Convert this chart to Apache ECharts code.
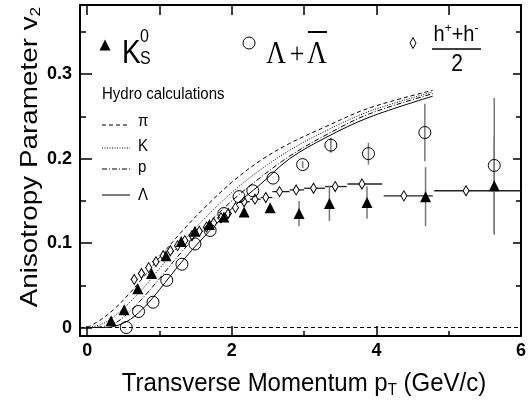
<!DOCTYPE html>
<html><head><meta charset="utf-8">
<script src="https://cdn.jsdelivr.net/npm/echarts@6/dist/echarts.min.js"></script>
<style>html,body{margin:0;padding:0;background:#fff}#c{width:529px;height:400px}</style>
</head><body><div id="c"></div>
<script>
// ---- data ----
const xTickLabels = [0, 2, 4, 6];
const yTickLabels = [0, 0.1, 0.2, 0.3];

// K0S (filled triangles)
const kX   = [0.33,0.51,0.70,0.89,1.09,1.30,1.49,1.69,1.89,2.17,2.53,2.93,3.35,3.87,4.68,5.63];
const kY   = [0.008,0.021,0.046,0.064,0.085,0.102,0.114,0.122,0.131,0.137,0.142,0.135,0.147,0.148,0.155,0.168];
const kErr = [0,0,0,0,0,0,0,0,0,0,0,0.015,0.021,0.019,0.035,0.058];

// Lambda + anti-Lambda (open circles)
const lamX   = [0.54,0.71,0.91,1.10,1.31,1.49,1.70,1.89,2.10,2.29,2.57,2.98,3.37,3.89,4.67,5.63];
const lamY   = [0.000,0.019,0.030,0.056,0.075,0.099,0.115,0.135,0.155,0.162,0.177,0.193,0.216,0.206,0.231,0.192];
const lamErr = [0,0,0,0,0,0,0,0,0,0,0,0.004,0.009,0.013,0.034,0.080];

// (h+ + h-)/2 (open diamonds, with pT bin widths)
const hX  = [0.65,0.75,0.85,0.95,1.05,1.15,1.25,1.35,1.45,1.55,1.65,1.75,1.85,1.95,2.05,2.17,2.32,2.47,2.66,2.89,3.13,3.43,3.80,4.38,5.24];
const hY  = [0.057,0.064,0.071,0.078,0.085,0.091,0.097,0.103,0.109,0.114,0.119,0.124,0.130,0.135,0.142,0.149,0.152,0.154,0.161,0.163,0.165,0.167,0.170,0.156,0.162];
const hLo = [0.60,0.70,0.80,0.90,1.00,1.10,1.20,1.30,1.40,1.50,1.60,1.70,1.80,1.90,2.00,2.10,2.25,2.40,2.56,2.80,3.00,3.29,3.60,4.10,4.80];
const hHi = [0.70,0.80,0.90,1.00,1.10,1.20,1.30,1.40,1.50,1.60,1.70,1.80,1.90,2.00,2.10,2.25,2.40,2.56,2.80,3.00,3.29,3.59,4.08,4.78,6.00];

// Hydro calculations
const hydroX  = [0,0.2,0.4,0.6,0.8,1.0,1.3,1.6,2.0,2.4,2.8,3.3,3.9,4.78];
const piY     = [0,0.010,0.024,0.042,0.062,0.083,0.113,0.140,0.172,0.198,0.218,0.238,0.260,0.281];
const kaonY   = [0,0.004,0.015,0.031,0.049,0.070,0.100,0.127,0.160,0.187,0.210,0.233,0.256,0.279];
const protonY = [0,0.001,0.006,0.020,0.038,0.058,0.089,0.117,0.150,0.178,0.203,0.228,0.253,0.277];
const lambdaY = [0,0.000,0.002,0.010,0.025,0.045,0.077,0.106,0.141,0.170,0.200,0.225,0.249,0.274];

// ---- chart ----
const SANS = '"Liberation Sans",Arial,Helvetica,sans-serif';
const SERIF = '"Liberation Serif","Times New Roman",serif';
const XMIN = -0.1, XMAX = 6, YMIN = -0.01, YMAX = 0.382;
const SY = 1.16; // vertical stretch of lettering in the reference

function xAx(pos, ticks, len, showLine, labels) {
  return {
    type: 'value', min: XMIN, max: XMAX, position: pos,
    axisLine: { show: showLine, onZero: false, lineStyle: { color: '#000', width: 2 } },
    axisTick: { show: true, inside: true, length: len, customValues: ticks, lineStyle: { color: '#000', width: 1.5 } },
    axisLabel: labels ? { show: true, customValues: labels, color: '#000', fontFamily: SANS, fontWeight: 'bold', fontSize: 18, margin: 6, showMaxLabel: true, showMinLabel: true } : { show: false },
    splitLine: { show: false }
  };
}
function yAx(pos, ticks, len, showLine, labels) {
  return {
    type: 'value', min: YMIN, max: YMAX, position: pos,
    axisLine: { show: showLine, onZero: false, lineStyle: { color: '#000', width: 2 } },
    axisTick: { show: true, inside: true, length: len, customValues: ticks, lineStyle: { color: '#000', width: 1.5 } },
    axisLabel: labels ? { show: true, customValues: labels, color: '#000', fontFamily: SANS, fontWeight: 'bold', fontSize: 18, margin: 8 } : { show: false },
    splitLine: { show: false }
  };
}

function curve(ys, dash) {
  return {
    type: 'line', xAxisIndex: 0, yAxisIndex: 0, showSymbol: false, smooth: 0.35, z: 3, silent: true,
    lineStyle: { color: '#000', width: 1, type: dash },
    data: hydroX.map((x, i) => [x, ys[i]])
  };
}
function vErr(xs, ys, es) {
  return {
    type: 'custom', xAxisIndex: 0, yAxisIndex: 0, z: 2, silent: true,
    encode: { x: 0, y: 1 },
    data: xs.map((x, i) => [x, ys[i], es[i]]),
    renderItem: (params, api) => {
      const x = api.value(0), y = api.value(1), e = api.value(2);
      if (!e) return { type: 'group', children: [] };
      const a = api.coord([x, y - e]), b = api.coord([x, y + e]);
      return { type: 'line', shape: { x1: a[0], y1: a[1], x2: b[0], y2: b[1] }, style: { stroke: '#777', lineWidth: 1.5 } };
    }
  };
}
function txt(x, y, text, font, align, extra) {
  return Object.assign({ type: 'text', x: x, y: y, scaleY: SY, style: { text: text, font: font, fill: '#000', align: align || 'left', verticalAlign: 'middle' } }, extra || {});
}

const option = {
  animation: false,
  grid: { left: 80, top: 5, right: 1, bottom: 64 },
  xAxis: [
    xAx('bottom', [0, 2, 4], 10, true, xTickLabels),
    xAx('bottom', [1, 3, 5], 5, false, null),
    xAx('top', [0, 1, 2, 3, 4, 5], 10, true, null)
  ],
  yAxis: [
    yAx('left', [0, 0.1, 0.2, 0.3], 12, true, yTickLabels),
    yAx('left', [0.05, 0.15, 0.25, 0.35], 6, false, null),
    yAx('right', [0.1, 0.2, 0.3], 8, true, null),
    yAx('right', [0.05, 0.15, 0.25, 0.35], 5, false, null)
  ],
  series: [
    {
      type: 'line', data: [], xAxisIndex: 0, yAxisIndex: 0, silent: true,
      markLine: { silent: true, symbol: 'none', label: { show: false },
        lineStyle: { color: '#000', width: 1, type: [4, 3] }, data: [{ yAxis: 0 }] }
    },
    curve(piY, [4, 3]),
    curve(kaonY, [1, 1.5]),
    curve(protonY, [5, 2, 1, 2]),
    curve(lambdaY, 'solid'),
    {
      type: 'custom', xAxisIndex: 0, yAxisIndex: 0, z: 2, silent: true,
      encode: { x: [0, 1], y: 2 },
      data: hX.map((x, i) => [hLo[i], hHi[i], hY[i]]),
      renderItem: (params, api) => {
        const a = api.coord([api.value(0), api.value(2)]), b = api.coord([api.value(1), api.value(2)]);
        return { type: 'line', shape: { x1: a[0], y1: a[1], x2: b[0], y2: b[1] }, style: { stroke: '#222', lineWidth: 1.3 } };
      }
    },
    vErr(kX, kY, kErr),
    vErr(lamX, lamY, lamErr),
    {
      type: 'scatter', z: 4, silent: true, symbol: 'diamond', symbolSize: [6, 10],
      itemStyle: { color: '#fff', borderColor: '#000', borderWidth: 1, opacity: 1 },
      data: hX.map((x, i) => [x, hY[i]])
    },
    {
      type: 'scatter', z: 5, silent: true, symbol: 'circle', symbolSize: 12,
      itemStyle: { color: 'rgba(0,0,0,0)', borderColor: '#000', borderWidth: 1, opacity: 1 },
      data: lamX.map((x, i) => [x, lamY[i]])
    },
    {
      type: 'scatter', z: 6, silent: true, symbol: 'triangle', symbolSize: 11,
      itemStyle: { color: '#000', opacity: 1 },
      data: kX.map((x, i) => [x, kY[i]])
    }
  ],
  graphic: [
    // K0S legend
    { type: 'polygon', shape: { points: [[99.5, 50.5], [110.5, 50.5], [105, 39.5]] }, style: { fill: '#000' } },
    txt(122, 54, 'K', '28px ' + SANS),
    txt(140, 37, '0', '16px ' + SANS),
    txt(140, 59, 'S', '16px ' + SANS),
    // Lambda legend
    { type: 'circle', shape: { cx: 249, cy: 43, r: 6 }, style: { fill: 'none', stroke: '#000', lineWidth: 1 } },
    txt(276, 55, 'Λ', '27px ' + SERIF, 'center'),
    txt(297, 55, '+', '26px ' + SERIF, 'center'),
    txt(317, 55, 'Λ', '27px ' + SERIF, 'center'),
    { type: 'line', shape: { x1: 308, y1: 32, x2: 327, y2: 32 }, style: { stroke: '#000', lineWidth: 2 } },
    // h legend
    { type: 'polygon', shape: { points: [[413, 37.5], [416, 43], [413, 48.5], [410, 43]] }, style: { fill: '#fff', stroke: '#000', lineWidth: 1 } },
    { type: 'text', x: 456, y: 35, scaleY: 1.1, style: { text: '{a|h}{s|+}{a|+h}{s|-}', align: 'center', verticalAlign: 'middle',
        rich: { a: { font: '20px ' + SANS, fill: '#000' }, s: { font: '12px ' + SANS, fill: '#000', padding: [0, 0, 12, 0] } } } },
    { type: 'line', shape: { x1: 432, y1: 49, x2: 481, y2: 49 }, style: { stroke: '#000', lineWidth: 1.5 } },
    txt(457, 64, '2', '21px ' + SANS, 'center'),
    // Hydro legend
    txt(102, 94, 'Hydro calculations', '15px ' + SANS),
    { type: 'line', shape: { x1: 102, y1: 125, x2: 130, y2: 125 }, style: { stroke: '#000', lineWidth: 1, lineDash: [4, 3] } },
    { type: 'line', shape: { x1: 102, y1: 148, x2: 130, y2: 148 }, style: { stroke: '#000', lineWidth: 1, lineDash: [1, 1.5] } },
    { type: 'line', shape: { x1: 102, y1: 169, x2: 130, y2: 169 }, style: { stroke: '#000', lineWidth: 1, lineDash: [5, 2, 1, 2] } },
    { type: 'line', shape: { x1: 102, y1: 195, x2: 130, y2: 195 }, style: { stroke: '#000', lineWidth: 1 } },
    txt(138, 121, 'π', '15px ' + SANS),
    txt(138, 146, 'K', '15px ' + SANS),
    txt(138, 167, 'p', '15px ' + SANS),
    txt(138, 195, 'Λ', '15px ' + SANS),
    // axis titles
    { type: 'text', x: 304, y: 384, scaleY: 1.08, style: { text: '{a|Transverse Momentum p}{b|T}{a| (GeV/c)}', align: 'center', verticalAlign: 'middle',
        rich: { a: { font: '24px ' + SANS, fill: '#000' }, b: { font: '15px ' + SANS, fill: '#000', padding: [12, 0, 0, 0] } } } },
    { type: 'text', x: 30, y: 157, rotation: Math.PI / 2, scaleX: SY, style: { text: '{a|Anisotropy Parameter v}{b|2}', align: 'center', verticalAlign: 'middle',
        rich: { a: { font: '24px ' + SANS, fill: '#000' }, b: { font: '15px ' + SANS, fill: '#000', padding: [12, 0, 0, 0] } } } }
  ]
};
const chart = echarts.init(document.getElementById('c'), null, { renderer: 'canvas' });
chart.setOption(option);
</script>
</body></html>
